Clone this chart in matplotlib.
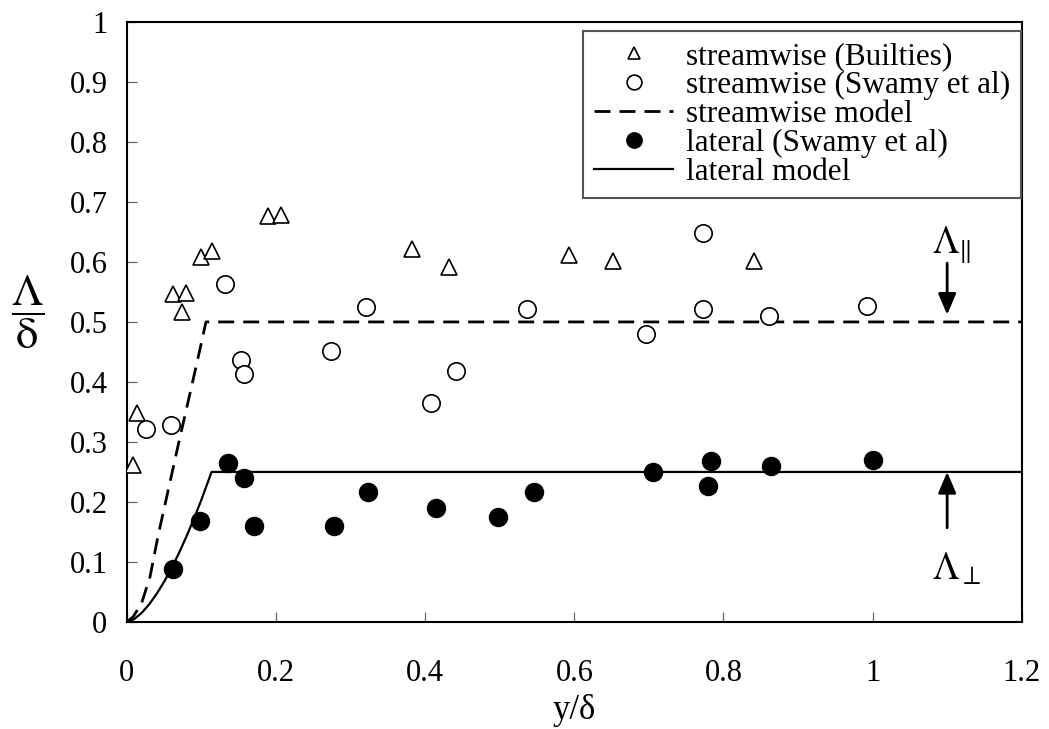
import matplotlib
matplotlib.use("Agg")
import matplotlib.pyplot as plt
from matplotlib.ticker import FuncFormatter

# streamwise (Builties)
tri_x = [0.0085, 0.0138, 0.062, 0.079, 0.074, 0.0988, 0.114, 0.189, 0.206,
         0.382, 0.432, 0.593, 0.652, 0.841]
tri_y = [0.262, 0.349, 0.547, 0.548, 0.517, 0.609, 0.619, 0.677, 0.678,
         0.621, 0.591, 0.612, 0.602, 0.601]

# streamwise (Swamy et al)
circ_x = [0.0255, 0.059, 0.132, 0.153, 0.157, 0.2735, 0.3205, 0.4076, 0.441,
          0.537, 0.696, 0.772, 0.772, 0.861, 0.993]
circ_y = [0.321, 0.328, 0.563, 0.436, 0.413, 0.452, 0.5245, 0.3645, 0.419,
          0.521, 0.4795, 0.648, 0.5217, 0.5105, 0.527]

# lateral (Swamy et al)
dot_x = [0.062, 0.0979, 0.136, 0.157, 0.171, 0.278, 0.3236, 0.414, 0.497,
         0.546, 0.7057, 0.783, 0.7786, 0.8635, 1.0]
dot_y = [0.0878, 0.169, 0.2655, 0.2405, 0.16, 0.16, 0.217, 0.1895, 0.1745,
         0.217, 0.2505, 0.269, 0.2267, 0.26, 0.27]

# streamwise model
sm_x = [0, 0.0085, 0.0196, 0.031, 0.042, 0.0554, 0.0688, 0.0822, 0.091, 0.1, 0.106, 1.2]
sm_y = [0, 0.009, 0.031, 0.0755, 0.145, 0.22, 0.295, 0.368, 0.416, 0.466, 0.5, 0.5]

# lateral model
lm_x = [0, 0.01, 0.02, 0.03, 0.04, 0.05, 0.06, 0.07, 0.08, 0.09, 0.1, 0.1135, 1.2]
lm_y = [0, 0.005, 0.0155, 0.0297, 0.0471, 0.0673, 0.0901, 0.1154, 0.143,
        0.1725, 0.204, 0.25, 0.25]

x_ticks = [0, 0.2, 0.4, 0.6, 0.8, 1.0, 1.2]
y_ticks = [0, 0.1, 0.2, 0.3, 0.4, 0.5, 0.6, 0.7, 0.8, 0.9, 1.0]

plt.rcParams["font.family"] = ["Liberation Serif", "DejaVu Serif"]
plt.rcParams["mathtext.fontset"] = "stix"
plt.rcParams["lines.scale_dashes"] = False

fig, ax = plt.subplots(figsize=(10.49, 7.29), dpi=100)
fig.subplots_adjust(left=0.121, right=0.974, top=0.970, bottom=0.1468)

ax.plot(tri_x, tri_y, linestyle="none", marker="^", ms=11, mfc="white",
        mec="black", mew=1.2, label="streamwise (Builties)", zorder=4)
ax.plot(circ_x, circ_y, linestyle="none", marker="o", ms=12.5, mfc="white",
        mec="black", mew=1.2, label="streamwise (Swamy et al)", zorder=4)
ax.plot(sm_x, sm_y, color="black", lw=2, dashes=(11.5, 6.5),
        label="streamwise model", zorder=3)
ax.plot(dot_x, dot_y, linestyle="none", marker="o", ms=13, mfc="black",
        mec="black", label="lateral (Swamy et al)", zorder=4)
ax.plot(lm_x, lm_y, color="black", lw=1.6, label="lateral model", zorder=3)

ax.set_xlim(0, 1.2)
ax.set_ylim(0, 1)
ax.set_xticks(x_ticks)
ax.set_yticks(y_ticks)
fmt = FuncFormatter(lambda v, p: f"{v:g}")
ax.xaxis.set_major_formatter(fmt)
ax.yaxis.set_major_formatter(fmt)
ax.tick_params(direction="in", length=7, width=0.9, color="#666666",
               labelsize=22, labelcolor="black")
ax.tick_params(axis="x", pad=27)
ax.tick_params(axis="y", pad=14)
for s in ax.spines.values():
    s.set_linewidth(1.5)

ax.set_xlabel("y/δ", fontsize=25, labelpad=4)
ax.set_ylabel(r"$\dfrac{\mathrm{\Lambda}}{\mathrm{\delta}}$", fontsize=32,
              rotation=0, va="center", ha="center")
ax.yaxis.set_label_coords(-0.1106, 0.517)

# arrows and labels at the right
ax.annotate("", xy=(1.1, 0.512), xytext=(1.1, 0.598),
            arrowprops=dict(arrowstyle="-|>,head_length=0.4,head_width=0.17",
                            mutation_scale=32, color="black", lw=2,
                            shrinkA=0, shrinkB=0))
ax.annotate("", xy=(1.1, 0.25), xytext=(1.1, 0.157),
            arrowprops=dict(arrowstyle="-|>,head_length=0.4,head_width=0.17",
                            mutation_scale=32, color="black", lw=2,
                            shrinkA=0, shrinkB=0))
ax.text(1.079, 0.615, r"$\mathrm{\Lambda}_{\Vert}$", fontsize=27,
        ha="left", va="baseline")
ax.text(1.079, 0.07, r"$\mathrm{\Lambda}_{\bot}$", fontsize=27,
        ha="left", va="baseline")

leg = ax.legend(loc="upper left", bbox_to_anchor=(0.5095, 0.985),
                borderaxespad=0, fontsize=22.5, labelspacing=0.0,
                handlelength=2.55, handletextpad=0.4, borderpad=0.35,
                markerscale=0.85, fancybox=False, framealpha=1,
                edgecolor="#555555")
leg.get_frame().set_linewidth(1.5)

fig.savefig("out.png", dpi=100)
